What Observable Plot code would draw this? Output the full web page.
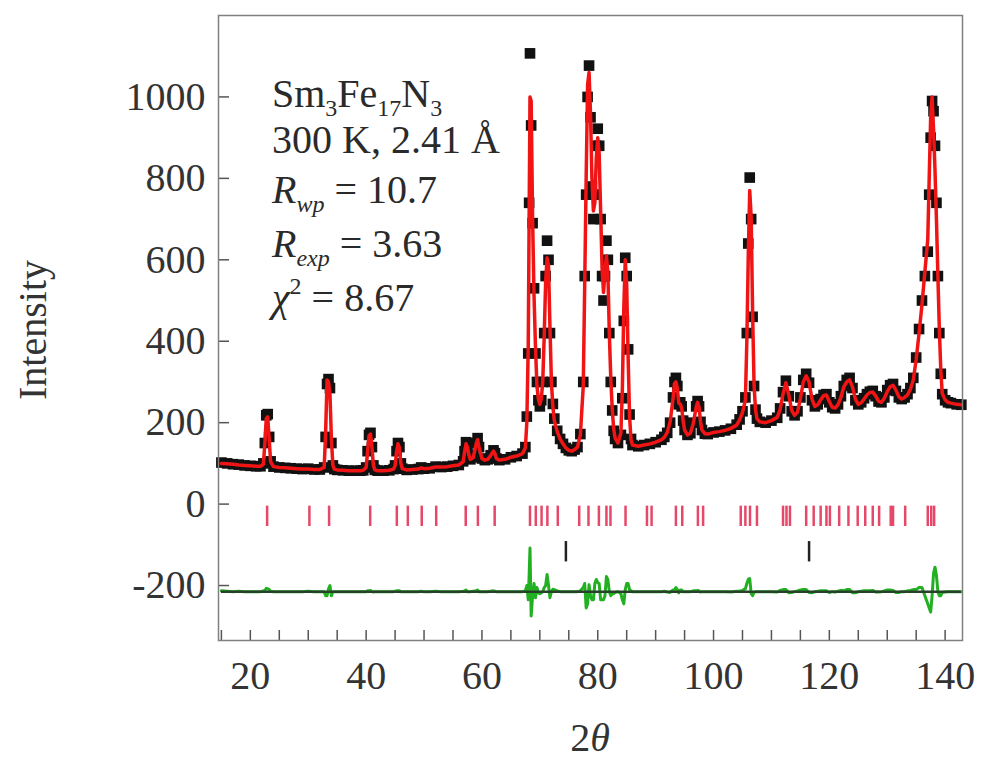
<!DOCTYPE html>
<html><head><meta charset="utf-8">
<script src="https://cdn.jsdelivr.net/npm/d3@7"></script>
<script src="https://cdn.jsdelivr.net/npm/@observablehq/plot@0.6"></script>
<style>
body{margin:0;background:#fff;}
#chart{position:relative;width:987px;height:759px;}
</style></head><body><div id="chart"></div>
<script>
// ---- data ----
const twoTheta = [
  15,16,17,18,19,20,21,21.75, 22.25,22.5,22.75,23,23.25,23.5, 24,25,26,27,28,29,30,31,32,
  32.75,33,33.25,33.5,33.75,34,34.25,34.5,35,36,37,38,39,39.5,
  40,40.25,40.5,40.75,41,41.25,41.5, 42,43,44, 44.75,45,45.25,45.5,45.75,46,46.25, 47,48,49,49.5,50,51,52,53,54,55,56,
  56.75,57,57.25,57.5,57.75,58, 58.5,59,59.25,59.5,60, 60.5,61,61.5,62,62.25,62.5, 63,64,65,66,67,67.5,
  67.75,68,68.15,68.3,68.5,68.75,69, 69.25,69.5,69.75,70,70.25,70.5,70.75, 71,71.25,71.5,71.75,72,72.25,72.5, 73,73.5,74,74.5,75,75.5,76,
  76.5,77,77.5,77.75,78,78.25,78.5, 78.75,79,79.25,79.5,79.75,80,80.25, 80.5,80.75,81,81.25,81.5,81.75,82, 82.25,82.5,82.75,83,83.5,84,84.25, 84.5,84.75,85,85.25,85.5,85.75,86, 87,88,
  89,90,91,91.5,92,92.5,93, 93.25,93.5,93.75,94,94.25,94.5,94.75, 95,95.5,96,96.5,97,97.25,97.5, 97.75,98,98.5,99,100,101,102, 103,104,104.5,105,105.5,105.75,106, 106.25,106.5,106.75,107,107.25,107.5,108, 109,
  110,111,111.5,112,112.5,113,113.5, 114,114.5,115,115.5,116,116.5,117, 117.5,118,118.5,119,119.5,120,120.5, 121,121.5,122,122.5,123,123.5,124, 124.5,125,125.5,126,126.5,127,127.5, 128,128.5,129,129.5,130,130.5,131, 131.5,132,132.5,133,
  133.5,134,134.5,135,135.5,136,136.5, 137,137.25,137.5,137.75,138,138.25,138.5, 138.75,139,139.25,139.5,140,140.5,141, 142,142.8
];
const observed = [
  102,100,98,97,95,94,93,93, 100,150,218,221,165,105, 92,90,89,88,87,86,87,85,85,
  90,165,295,307,285,150,95,86,84,83,82,82,82,83,
  90,130,170,175,140,95,84, 82,82,83, 86,95,130,150,140,100,87, 84,85,86,90,87,88,92,91,92,94,96,
  105,130,152,140,120,110, 115,150,162,140,112, 108,110,120,132,125,112, 108,110,115,118,124,140,
  215,370,740,1107,930,690,530, 370,300,255,240,255,300,420, 560,647,600,420,300,246,210, 180,160,148,138,132,130,134,
  140,172,300,560,760,1000,1077, 950,780,700,760,880,922,880, 700,560,500,560,647,600,420, 300,230,180,160,150,170,260, 450,605,560,380,220,160,145, 142,145,
  148,152,158,165,175,200,262, 300,310,290,245,250,240,205, 182,170,174,200,240,253,240, 202,182,173,172,176,178,181, 185,195,208,228,262,420,640, 802,700,460,290,232,210,202, 200,
  205,212,235,275,303,265,228, 218,228,262,305,320,298,255, 240,245,258,268,270,250,238, 235,245,265,290,305,310,285, 255,245,250,260,270,276,278, 265,252,250,262,280,292,295, 278,262,258,262,
  270,285,310,360,430,500,560, 620,760,900,990,965,880,740, 560,420,320,270,255,250,248, 245,244
];
const calculated = [
  100,99,98,96,95,94,93,93, 98,148,210,214,160,104, 92,90,89,88,87,86,86,85,85,
  90,175,305,300,270,160,96,86,84,83,82,82,82,83,
  90,128,168,172,140,96,84, 82,82,83, 86,94,128,148,138,100,87, 84,85,86,89,87,88,91,91,92,94,96,
  104,128,148,140,120,110, 114,148,158,140,112, 108,110,119,130,124,112, 108,110,115,118,124,138,
  200,390,700,1000,990,700,510, 385,290,258,245,258,300,410, 545,605,585,435,300,240,205, 178,160,148,138,132,130,134,
  140,170,290,540,800,1030,1060, 960,800,720,740,850,900,860, 720,580,520,570,610,570,420, 310,235,185,162,150,175,280, 480,600,540,360,215,158,145, 142,145,
  148,152,158,164,176,202,258, 296,300,285,248,246,236,205, 182,170,174,198,238,250,238, 203,182,173,172,176,178,181, 186,194,207,225,255,400,610, 770,705,470,292,232,210,202, 200,
  205,213,232,270,298,268,230, 218,226,258,300,315,300,258, 240,244,256,266,268,252,238, 236,244,262,288,300,305,288, 258,245,249,258,268,274,275, 266,253,250,260,276,288,292, 280,264,258,262,
  268,282,305,355,420,490,570, 650,800,950,1000,920,820,700, 560,430,330,272,256,250,248, 245,244
];
// Bragg reflection positions (main phase, red) and secondary phase (black)
const braggMain = [22.9,30.2,33.6,40.7,45.3,47.2,49.6,52.1,57.2,59.3,62.2,68.3,69.3,70.3,71.3,73.1,76.8,78.4,80.2,81.5,82.2,84.8,88.5,89.3,93.5,94.6,97.3,98.2,104.7,105.5,106.3,107.5,112,112.6,113.2,116,117.3,118.5,119.5,120.1,121.7,123.3,124.9,126.2,127.5,128.6,130.6,131,133.1,137,137.6,138.1];
const braggSecond = [74.5, 116.5];
const braggRowMain = [-5, -55];
const braggRowSecond = [-92, -142];
const diffOffset = -215;
const xTickLabels = [20,40,60,80,100,120,140];
const xMinorTicks = [15,20,25,30,35,40,45,50,55,60,65,70,75,80,85,90,95,100,105,110,115,120,125,130,135,140];
const yTickLabels = [-200,0,200,400,600,800,1000];

// ---- table for the library ----
const rows = twoTheta.map((t,i)=>({t, obs: observed[i], calc: calculated[i], diff: observed[i]-calculated[i]+diffOffset}));

const xDomain=[14.5,143], yDomain=[-335,1200];
const W=987,H=759, mT=15, mB=119, mL=218, mR=25;
const tickLenY = (yDomain[1]-yDomain[0]) * 10 / (H-mT-mB);
const tickLenX = (xDomain[1]-xDomain[0]) * 11 / (W-mL-mR);
const serif = "Liberation Serif, Times New Roman, serif";
const fmt = d => String(d);

const plot = Plot.plot({
  width:W, height:H, marginTop:mT, marginBottom:mB, marginLeft:mL, marginRight:mR,
  style:{fontFamily:serif, fontSize:"40px", color:"#333", background:"#fff", overflow:"visible"},
  x:{domain:xDomain}, y:{domain:yDomain},
  marks:[
    Plot.axisX(xTickLabels, {tickSize:0, tickPadding:20, label:null, fontSize:40, fontFamily:serif, tickFormat:fmt, fill:"#333"}),
    Plot.axisY(yTickLabels, {tickSize:0, tickPadding:13, label:null, fontSize:40, fontFamily:serif, tickFormat:fmt, fill:"#333"}),
    Plot.ruleX(xMinorTicks, {y1: yDomain[0], y2: yDomain[0]+tickLenY, stroke:"#555", strokeWidth:1.5}),
    Plot.ruleY(yTickLabels, {x1: xDomain[0], x2: xDomain[0]+tickLenX, stroke:"#555", strokeWidth:1.5}),
    Plot.ruleX(braggMain, {y1: braggRowMain[0], y2: braggRowMain[1], stroke:"#e0284e", strokeWidth:2.5, strokeOpacity:0.85}),
    Plot.ruleX(braggSecond, {y1: braggRowSecond[0], y2: braggRowSecond[1], stroke:"#222", strokeWidth:2.5}),
    Plot.line(rows, {x:"t", y:"diff", stroke:"#22b022", strokeWidth:3}),
    Plot.ruleY([diffOffset], {x1: twoTheta[0], x2: twoTheta[twoTheta.length-1], stroke:"#26402a", strokeWidth:2.5}),
    Plot.dot(rows, {x:"t", y:"obs", symbol:"square", fill:"#111", r:6}),
    Plot.line(rows, {x:"t", y:"calc", stroke:"#f01414", strokeWidth:3.5}),
    Plot.frame({stroke:"#808080", strokeWidth:1.5})
  ]
});
document.getElementById("chart").appendChild(plot);

// ---- text annotations with sub/superscripts ----
const svg = d3.select(plot);
const g = svg.append("g").attr("font-family", serif).attr("font-size", 40).attr("fill", "#2a2a2a").attr("text-anchor","start");
function line(y, parts){
  const t = g.append("text").attr("x", 272).attr("y", y).attr("text-anchor","start");
  parts.forEach(p=>{
    const s = t.append("tspan").text(p.t);
    if (p.i) s.attr("font-style","italic");
    if (p.sub){ s.attr("font-size",24).attr("dy",9); }
    if (p.sup){ s.attr("font-size",24).attr("dy",-17); }
    if (p.back) s.attr("dy", p.back);
  });
}
line(107, [{t:"Sm"},{t:"3",sub:1},{t:"Fe",back:-9},{t:"17",sub:1},{t:"N",back:-9},{t:"3",sub:1}]);
line(153, [{t:"300 K, 2.41 Å"}]);
line(203, [{t:"R",i:1},{t:"wp",i:1,sub:1},{t:" = 10.7",back:-9}]);
line(257, [{t:"R",i:1},{t:"exp",i:1,sub:1},{t:" = 3.63",back:-9}]);
line(311, [{t:"χ",i:1},{t:"2",sup:1},{t:" = 8.67",back:17}]);

// axis titles
svg.append("text").attr("transform","translate(46,330) rotate(-90)").attr("text-anchor","middle")
  .attr("font-family",serif).attr("font-size",40).attr("fill","#333").text("Intensity");
const xt = svg.append("text").attr("x",590).attr("y",751).attr("text-anchor","middle")
  .attr("font-family",serif).attr("font-size",40).attr("fill","#333");
xt.append("tspan").text("2");
xt.append("tspan").attr("font-style","italic").text("θ");
</script></body></html>
